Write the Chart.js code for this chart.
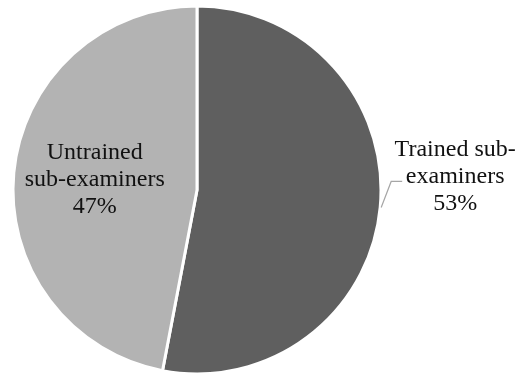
<!DOCTYPE html>
<html>
<head>
<meta charset="utf-8">
<script src="https://cdn.jsdelivr.net/npm/chart.js@4/dist/chart.umd.min.js"></script>
<style>
    html, body { margin: 0; padding: 0; background: #fff; }
    #chart { display: block; }
</style>
</head>
<body>
<canvas id="chart" width="520" height="374"></canvas>
<script>
const categories = ['Trained sub-examiners', 'Untrained sub-examiners'];
const shares = [53, 47];
const labelLines = [
    ['Trained sub-', 'examiners'],
    ['Untrained', 'sub-examiners'],
];
const sliceColors = ['#5f5f5f', '#b3b3b3'];

const FONT = '24px "Liberation Serif", "Times New Roman", serif';
const LINE_H = 27;

// labels: trained one sits outside with a leader line, untrained one inside the slice
const pieLabels = {
    id: 'pieLabels',
    afterDatasetsDraw(chart) {
        const ctx = chart.ctx;
        const meta = chart.getDatasetMeta(0);
        ctx.save();
        ctx.font = FONT;
        ctx.fillStyle = '#111';
        ctx.textAlign = 'center';
        ctx.textBaseline = 'alphabetic';

        meta.data.forEach((arc, i) => {
            const { x, y, startAngle, endAngle, outerRadius } = arc.getProps(
                ['x', 'y', 'startAngle', 'endAngle', 'outerRadius'], true);
            const mid = (startAngle + endAngle) / 2;
            const lines = labelLines[i].concat([shares[i] + '%']);
            let cx, top;

            if (i === 0) {
                // leader line from the rim
                const ex = x + Math.cos(mid) * (outerRadius + 1);
                const ey = y + Math.sin(mid) * (outerRadius + 1);
                const kx = ex + 10, ky = ey - 26;
                ctx.strokeStyle = '#a6a6a6';
                ctx.lineWidth = 1.2;
                ctx.beginPath();
                ctx.moveTo(ex, ey);
                ctx.lineTo(kx, ky);
                ctx.lineTo(kx + 11, ky);
                ctx.stroke();
                cx = kx + 64;
                top = ky - 25;
            } else {
                cx = x + Math.cos(mid) * outerRadius * 0.58 + 4;
                top = y + Math.sin(mid) * outerRadius * 0.58 - 21;
            }
            lines.forEach((t, k) => ctx.fillText(t, cx, top + k * LINE_H));
        });
        ctx.restore();
    }
};

new Chart(document.getElementById('chart'), {
    type: 'pie',
    data: {
        labels: categories,
        datasets: [{
            data: shares,
            backgroundColor: sliceColors,
            borderColor: '#ffffff',
            borderWidth: 3,
        }],
    },
    options: {
        responsive: false,
        animation: false,
        radius: 184,
        layout: { padding: { left: 0, right: 126, top: 6, bottom: 0 } },
        plugins: {
            legend: { display: false },
            tooltip: { enabled: false },
        },
    },
    plugins: [pieLabels],
});
</script>
</body>
</html>
